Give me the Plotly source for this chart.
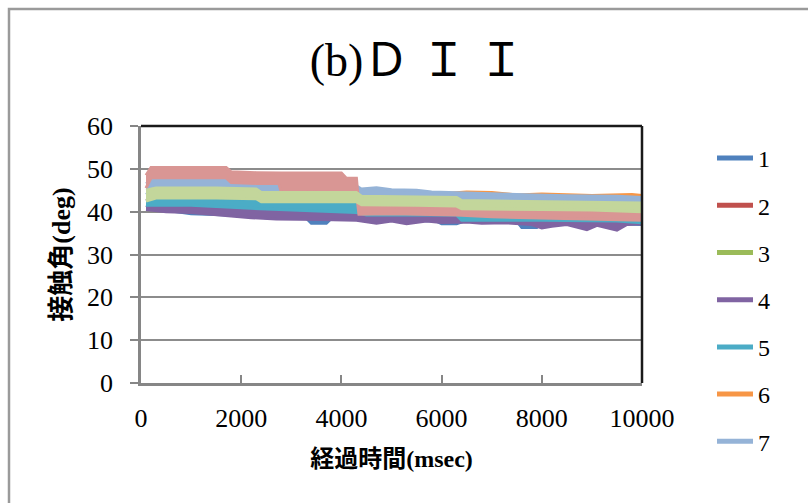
import plotly.graph_objects as go

# ---------------- data ----------------
series_names = ["1", "2", "3", "4", "5", "6", "7", "8", "9"]
colors = ["#4F81BD", "#C0504D", "#9BBB59", "#8064A2", "#4BACC6",
          "#F79646", "#95B3D7", "#D99694", "#C3D69B"]

t1 = [100, 400, 1000, 1800, 2500, 3300, 3400, 3700, 3800, 5000, 5900, 6000, 6300, 6500, 7500, 7600, 7900, 8000, 9000, 10000]
lo1 = [41.5, 40.5, 39.5, 39.2, 38.6, 38.5, 37.3, 37.3, 38.4, 38.0, 37.8, 37.2, 37.2, 38.0, 37.8, 36.3, 36.3, 37.5, 37.2, 37.0]
hi1 = [43.0, 42.5, 41.5, 41.0, 40.5, 40.3, 40.3, 40.2, 40.0, 39.6, 39.4, 39.3, 39.2, 39.0, 38.9, 38.9, 38.8, 38.8, 38.6, 38.5]

t2 = [100, 500, 1000, 1200, 2000, 3000, 4000, 5000, 7000, 10000]
lo2 = [41.5, 40.8, 39.8, 39.8, 40.0, 40.0, 39.5, 39.0, 38.8, 38.5]
hi2 = [43.0, 42.3, 41.5, 41.5, 41.3, 41.2, 41.0, 40.5, 40.2, 40.0]

t3 = [100, 1000, 3000, 3200, 3400, 5000, 8000, 10000]
lo3 = [41.5, 40.8, 40.3, 40.3, 40.3, 40.0, 39.5, 39.3]
hi3 = [43.2, 42.3, 41.8, 41.0, 41.0, 41.3, 41.0, 40.8]

t4 = [100, 500, 1000, 1500, 2200, 2700, 3200, 3600, 4300, 4700, 5000, 5300, 5700, 6000, 6500, 6800, 7300, 7800, 8000, 8200, 8500, 8900, 9100, 9500, 9700, 10000]
lo4 = [40.5, 40.0, 39.8, 39.2, 38.6, 38.3, 38.2, 38.2, 38.0, 37.3, 37.8, 37.2, 37.8, 37.5, 37.6, 37.3, 37.4, 37.0, 36.2, 36.6, 37.0, 35.8, 36.8, 35.7, 37.0, 37.2]
hi4 = [43.0, 42.0, 41.5, 41.0, 40.8, 40.6, 40.5, 40.4, 40.3, 40.0, 39.8, 39.6, 39.5, 39.4, 39.2, 39.0, 38.9, 38.8, 38.7, 38.6, 38.5, 38.4, 38.4, 38.3, 38.2, 38.0]

t5 = [100, 1000, 2500, 4300, 4500, 5400, 6300, 6400, 8000, 9500, 10000]
lo5 = [41.5, 41.5, 40.6, 39.8, 39.2, 39.2, 39.2, 38.0, 38.0, 37.8, 37.4]
hi5 = [43.2, 43.2, 42.8, 42.0, 41.0, 40.8, 40.5, 39.4, 39.4, 39.5, 39.7]

t6 = [100, 2000, 4300, 5000, 6000, 6500, 7000, 7500, 8000, 8300, 9000, 9800, 10000]
lo6 = [43.3, 43.3, 43.0, 42.0, 42.0, 42.0, 41.8, 41.8, 41.8, 41.8, 41.8, 41.8, 41.8]
hi6 = [45.0, 45.0, 44.5, 44.2, 44.2, 44.6, 44.5, 43.9, 44.1, 44.0, 43.8, 44.0, 43.8]

t7 = [100, 300, 1700, 1800, 2300, 2800, 4000, 4300, 4400, 4700, 5000, 5500, 5800, 6500, 7500, 8500, 9500, 10000]
lo7 = [44.0, 45.5, 45.5, 45.2, 44.6, 44.6, 44.6, 44.5, 43.5, 43.4, 43.3, 43.2, 43.0, 42.9, 42.6, 42.4, 42.2, 42.0]
hi7 = [46.5, 47.9, 47.9, 47.5, 46.0, 46.0, 46.0, 46.0, 45.3, 45.6, 45.1, 45.0, 44.6, 44.3, 44.0, 43.7, 43.6, 43.3]

t8 = [100, 200, 1700, 1800, 2300, 2750, 2800, 4000, 4100, 4300, 4350, 5000, 6300, 7000, 8000, 9000, 10000]
lo8 = [45.5, 47.9, 47.9, 46.8, 46.6, 46.6, 44.6, 44.4, 44.4, 44.4, 39.4, 39.5, 39.2, 38.8, 38.5, 38.3, 38.0]
hi8 = [48.5, 50.3, 50.3, 49.3, 49.1, 49.0, 49.0, 49.0, 47.8, 47.8, 41.2, 41.2, 41.0, 40.5, 40.3, 40.2, 40.0]

t9 = [100, 300, 1500, 2300, 2400, 4300, 4400, 5500, 6300, 6400, 8000, 9000, 10000]
lo9 = [42.5, 43.2, 43.2, 43.0, 42.3, 42.3, 41.6, 41.5, 41.3, 40.7, 40.5, 40.4, 40.0]
hi9 = [45.0, 45.5, 45.5, 45.3, 44.5, 44.5, 43.6, 43.5, 43.3, 42.6, 42.4, 42.3, 42.0]

x_ticks = [0, 2000, 4000, 6000, 8000, 10000]
x_tick_labels = ["0", "2000", "4000", "6000", "8000", "10000"]
y_ticks = [0, 10, 20, 30, 40, 50, 60]
legend_names = ["1", "2", "3", "4", "5", "6", "7"]

title_text = "(b)Ｄ Ｉ Ｉ"
x_title = "経過時間(msec)"
y_title = "接触角(deg)"

bands = [(t1, lo1, hi1), (t2, lo2, hi2), (t3, lo3, hi3), (t4, lo4, hi4),
         (t5, lo5, hi5), (t6, lo6, hi6), (t7, lo7, hi7), (t8, lo8, hi8),
         (t9, lo9, hi9)]

SERIF = "Liberation Serif, Noto Sans CJK JP, serif"

fig = go.Figure()
for name, col, (t, lo, hi) in zip(series_names, colors, bands):
    fig.add_trace(go.Scatter(
        x=t + t[::-1], y=hi + lo[::-1], fill="toself", fillcolor=col,
        mode="lines", line=dict(color=col, width=3),
        name=name, showlegend=False, hoverinfo="skip"))

for i, name in enumerate(legend_names):
    fig.add_trace(go.Scatter(
        x=[None], y=[None], mode="lines", name=name,
        line=dict(color=colors[i], width=5), legendgroup=name,
        showlegend=True))

L, R, T, B = 141, 166, 126, 120
W, H = 808, 503
pw, ph = W - L - R, H - T - B

def px_x(px):
    return (px - L) / pw

def px_y(py):
    return (H - B - py) / ph

fig.update_layout(
    width=W, height=H,
    margin=dict(l=L, r=R, t=T, b=B),
    paper_bgcolor="white", plot_bgcolor="white",
    title=dict(text=title_text, x=417 / W, xref="container", xanchor="center",
               y=1 - 60 / H, yref="container", yanchor="middle",
               font=dict(family=SERIF, size=46, color="black")),
    showlegend=True,
    legend=dict(x=px_x(712), y=px_y(136), xanchor="left", yanchor="top",
                font=dict(family=SERIF, size=24, color="black"),
                tracegroupgap=13, itemwidth=36, bgcolor="rgba(0,0,0,0)",
                maxheight=420),
    xaxis=dict(range=[0, 10000], tickvals=x_ticks, ticktext=x_tick_labels,
               ticks="inside", ticklen=8,
               tickcolor="#868686", tickwidth=2,
               showline=True, linecolor="#868686", linewidth=2.5,
               showgrid=False, zeroline=False,
               tickfont=dict(family=SERIF, size=26, color="black"),
               ticklabelstandoff=10,
               title=dict(text=x_title, standoff=19,
                          font=dict(family=SERIF, size=24, color="black",
                                    weight="bold"))),
    yaxis=dict(range=[0, 60], tickvals=y_ticks, ticks="outside", ticklen=8,
               tickcolor="#868686", tickwidth=2,
               showline=True, linecolor="#868686", linewidth=2.5,
               showgrid=True, gridcolor="#8c8c8c", gridwidth=2, zeroline=False,
               tickfont=dict(family=SERIF, size=26, color="black"),
               ticklabelstandoff=12,
               title=dict(text=y_title, standoff=9,
                          font=dict(family=SERIF, size=26, color="black",
                                    weight="bold"))),
    shapes=[
        dict(type="line", xref="paper", yref="paper", x0=0, x1=1, y0=1, y1=1,
             line=dict(color="#1a1a1a", width=2.5), layer="above"),
        dict(type="line", xref="paper", yref="paper", x0=1, x1=1, y0=0, y1=1,
             line=dict(color="#1a1a1a", width=2.5), layer="above"),
        dict(type="rect", xref="paper", yref="paper",
             x0=px_x(9), x1=px_x(830), y0=px_y(9), y1=px_y(530),
             line=dict(color="#9a9a9a", width=2.5), layer="below"),
    ],
)

fig.write_html("out.html")
